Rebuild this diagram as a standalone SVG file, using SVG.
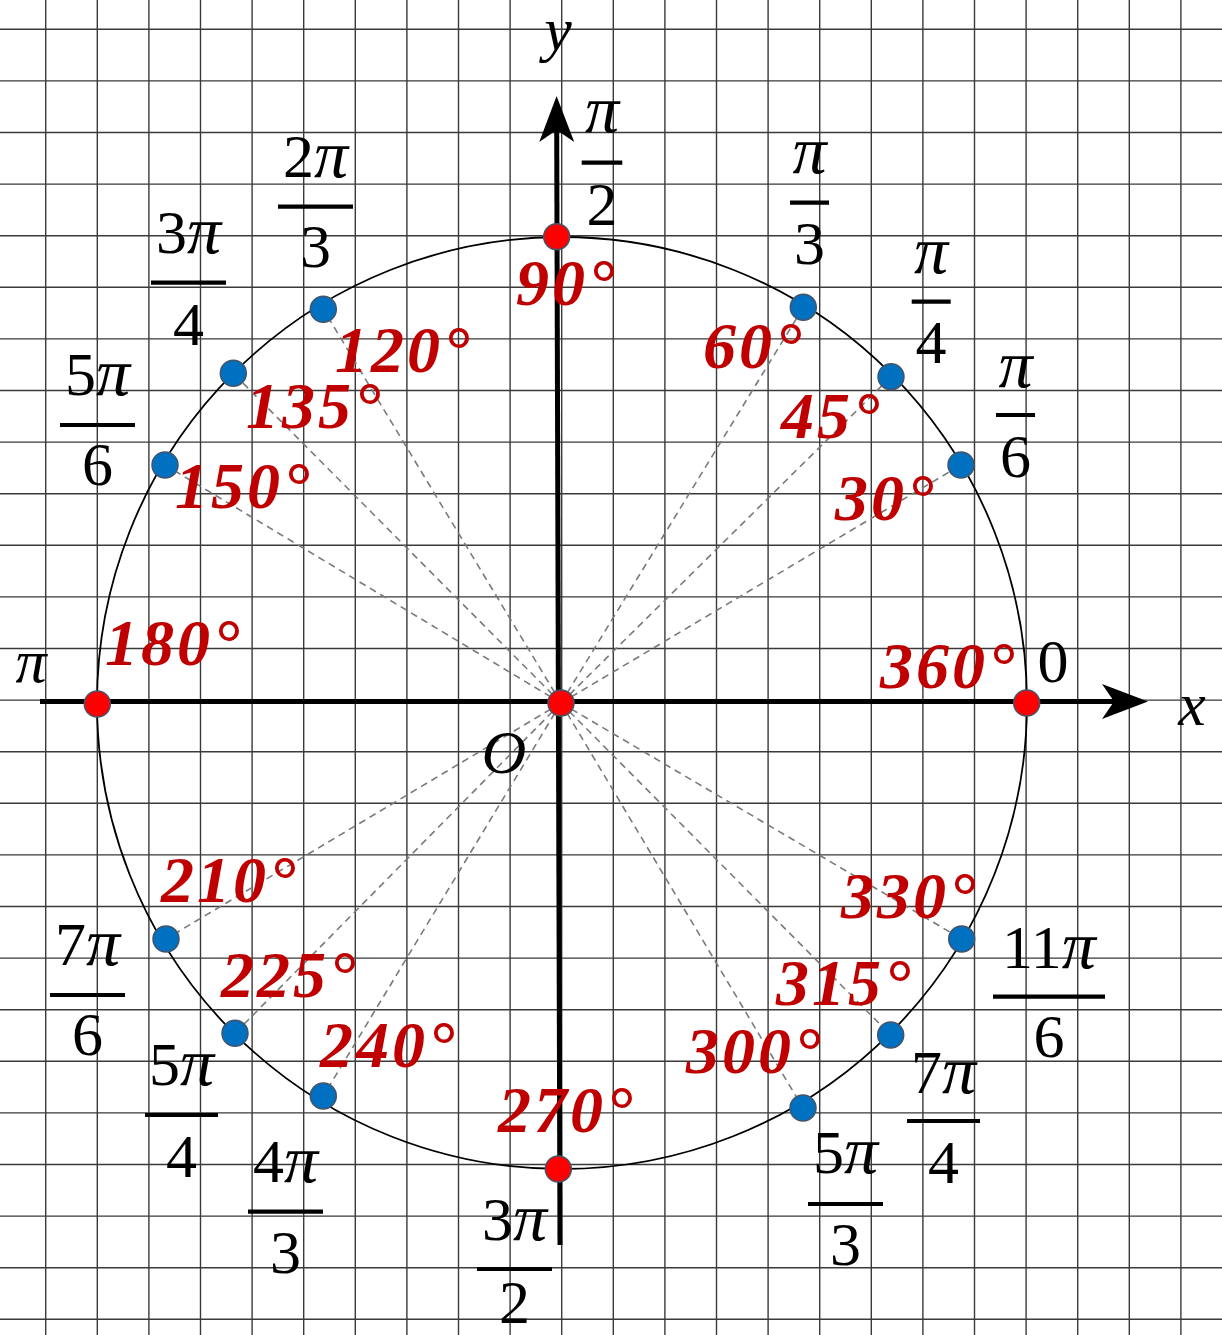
<svg xmlns="http://www.w3.org/2000/svg" width="1222" height="1335" viewBox="0 0 1222 1335">
<style>
.grid{stroke:#3a3a3a;stroke-width:1.4;fill:none}
.circ{stroke:#000;stroke-width:1.8;fill:none}
.axis{stroke:#000;stroke-width:5;fill:none}
.dash{stroke:#7a7a7a;stroke-width:1.6;stroke-dasharray:7 5;fill:none}
.bdot{fill:#0070c0;stroke:#44546a;stroke-width:1.5}
.rdot{fill:#ff0000;stroke:#44546a;stroke-width:1.5}
.lab{font-family:"Liberation Serif",serif;font-size:62px;fill:#000;text-anchor:middle}
.it{font-style:italic}
.pi{font-style:italic;font-size:68px}
.bar{stroke:#000;stroke-width:4.2}
.deg{font-family:"Liberation Serif",serif;font-size:66px;font-weight:bold;font-style:italic;fill:#c00000;letter-spacing:3px}
</style>
<defs>
<marker id="arr" markerUnits="userSpaceOnUse" markerWidth="50" markerHeight="40" refX="12" refY="17.5" orient="auto" overflow="visible">
<path d="M0,0 L46,17.5 L0,35 L12,17.5 Z" fill="#000"/>
</marker>
</defs>
<rect width="1222" height="1335" fill="#fff"/>
<g id="grid">
<path class="grid" d="M45.7,0V1335M97.3,0V1335M148.9,0V1335M200.5,0V1335M252.1,0V1335M303.7,0V1335M355.3,0V1335M406.9,0V1335M458.5,0V1335M510.1,0V1335M561.7,0V1335M613.3,0V1335M664.9,0V1335M716.5,0V1335M768.1,0V1335M819.7,0V1335M871.3,0V1335M922.9,0V1335M974.5,0V1335M1026.1,0V1335M1077.7,0V1335M1129.3,0V1335M1180.9,0V1335M0,29.3H1222M0,80.9H1222M0,132.5H1222M0,184.1H1222M0,235.7H1222M0,287.3H1222M0,338.9H1222M0,390.5H1222M0,442.1H1222M0,493.7H1222M0,545.3H1222M0,596.9H1222M0,648.5H1222M0,700.1H1222M0,751.7H1222M0,803.3H1222M0,854.9H1222M0,906.5H1222M0,958.1H1222M0,1009.7H1222M0,1061.3H1222M0,1112.9H1222M0,1164.5H1222M0,1216.1H1222M0,1267.7H1222M0,1319.3H1222"/>
</g>
<g id="unit-circle">
<ellipse class="circ" cx="562" cy="703" rx="465" ry="466"/>
</g>
<g id="connectors">
<line class="dash" x1="561" y1="703" x2="961" y2="465"/>
<line class="dash" x1="561" y1="703" x2="891" y2="376.7"/>
<line class="dash" x1="561" y1="703" x2="803.3" y2="307.3"/>
<line class="dash" x1="561" y1="703" x2="323.3" y2="309.3"/>
<line class="dash" x1="561" y1="703" x2="233.3" y2="373.3"/>
<line class="dash" x1="561" y1="703" x2="165" y2="465"/>
<line class="dash" x1="561" y1="703" x2="166" y2="939"/>
<line class="dash" x1="561" y1="703" x2="235" y2="1033.3"/>
<line class="dash" x1="561" y1="703" x2="323.3" y2="1096"/>
<line class="dash" x1="561" y1="703" x2="803" y2="1108"/>
<line class="dash" x1="561" y1="703" x2="890.7" y2="1035"/>
<line class="dash" x1="561" y1="703" x2="961.7" y2="939"/>
<line id="x-axis" class="axis" x1="40" y1="701.5" x2="1114" y2="701.5" marker-end="url(#arr)"/>
<line id="y-axis" class="axis" x1="560" y1="1245" x2="556.7" y2="130" marker-end="url(#arr)"/>
</g>
<g id="points">
<circle class="bdot" cx="961" cy="465" r="13"/>
<circle class="bdot" cx="891" cy="376.7" r="13"/>
<circle class="bdot" cx="803.3" cy="307.3" r="13"/>
<circle class="bdot" cx="323.3" cy="309.3" r="13"/>
<circle class="bdot" cx="233.3" cy="373.3" r="13"/>
<circle class="bdot" cx="165" cy="465" r="13"/>
<circle class="bdot" cx="166" cy="939" r="13"/>
<circle class="bdot" cx="235" cy="1033.3" r="13"/>
<circle class="bdot" cx="323.3" cy="1096" r="13"/>
<circle class="bdot" cx="803" cy="1108" r="13"/>
<circle class="bdot" cx="890.7" cy="1035" r="13"/>
<circle class="bdot" cx="961.7" cy="939" r="13"/>
<circle class="rdot" cx="556.7" cy="236.7" r="13"/>
<circle class="rdot" cx="97.3" cy="704" r="13"/>
<circle class="rdot" cx="1026.7" cy="703" r="13"/>
<circle class="rdot" cx="558.3" cy="1169" r="13"/>
<circle class="rdot" cx="561" cy="703" r="13"/>
</g>
<g id="axis-labels">
<text class="lab it" x="1192" y="725" font-size="104">x</text>
<text class="lab it" x="558" y="50" font-size="78">y</text>
<text class="lab it" x="504" y="773" font-size="92">O</text>
<text class="lab" x="1053" y="682">0</text>
<text class="lab it" x="31" y="682" font-size="68">π</text>
</g>
<g id="rad-labels">
<g id="f-pi2"><text class="lab pi" x="602" y="132">π</text><line class="bar" x1="581.7" y1="162.7" x2="622.3" y2="162.7"/><text class="lab" x="602" y="225">2</text></g>
<g id="f-pi3"><text class="lab pi" x="809.5" y="173">π</text><line class="bar" x1="790" y1="202.7" x2="829" y2="202.7"/><text class="lab" x="809.5" y="264">3</text></g>
<g id="f-pi4"><text class="lab pi" x="931" y="273">π</text><line class="bar" x1="911.7" y1="301.7" x2="950.7" y2="301.7"/><text class="lab" x="931" y="363">4</text></g>
<g id="f-pi6"><text class="lab pi" x="1015.5" y="387">π</text><line class="bar" x1="996" y1="415" x2="1035" y2="415"/><text class="lab" x="1015.5" y="477">6</text></g>
<g id="f-2pi3"><text class="lab" x="315.5" y="177">2<tspan class="pi">π</tspan></text><line class="bar" x1="278" y1="206.7" x2="353" y2="206.7"/><text class="lab" x="315.5" y="267">3</text></g>
<g id="f-3pi4"><text class="lab" x="188.5" y="253">3<tspan class="pi">π</tspan></text><line class="bar" x1="151" y1="282.7" x2="226" y2="282.7"/><text class="lab" x="188.5" y="345">4</text></g>
<g id="f-5pi6"><text class="lab" x="97.5" y="395">5<tspan class="pi">π</tspan></text><line class="bar" x1="60" y1="425" x2="135" y2="425"/><text class="lab" x="97.5" y="485">6</text></g>
<g id="f-7pi6"><text class="lab" x="87.5" y="965">7<tspan class="pi">π</tspan></text><line class="bar" x1="50" y1="995" x2="125" y2="995"/><text class="lab" x="87.5" y="1055">6</text></g>
<g id="f-5pi4"><text class="lab" x="181.5" y="1085">5<tspan class="pi">π</tspan></text><line class="bar" x1="145" y1="1115" x2="218" y2="1115"/><text class="lab" x="181.5" y="1177">4</text></g>
<g id="f-4pi3"><text class="lab" x="285.5" y="1182">4<tspan class="pi">π</tspan></text><line class="bar" x1="248" y1="1211.7" x2="323" y2="1211.7"/><text class="lab" x="285.5" y="1273">3</text></g>
<g id="f-3pi2"><text class="lab" x="514.5" y="1240">3<tspan class="pi">π</tspan></text><line class="bar" x1="477" y1="1269" x2="552" y2="1269"/><text class="lab" x="514.5" y="1323">2</text></g>
<g id="f-5pi3"><text class="lab" x="845.5" y="1173">5<tspan class="pi">π</tspan></text><line class="bar" x1="808" y1="1204" x2="883" y2="1204"/><text class="lab" x="845.5" y="1265">3</text></g>
<g id="f-7pi4"><text class="lab" x="943.5" y="1093">7<tspan class="pi">π</tspan></text><line class="bar" x1="907" y1="1121" x2="980" y2="1121"/><text class="lab" x="943.5" y="1183">4</text></g>
<g id="f-11pi6"><text class="lab" x="1049" y="968">11<tspan class="pi">π</tspan></text><line class="bar" x1="993" y1="996.7" x2="1105" y2="996.7"/><text class="lab" x="1049" y="1057">6</text></g>
</g>
<g id="deg-labels">
<text class="deg" x="516" y="305">90°</text>
<text class="deg" x="703" y="368">60°</text>
<text class="deg" x="781" y="438">45°</text>
<text class="deg" x="835" y="520">30°</text>
<text class="deg" x="335" y="372">120°</text>
<text class="deg" x="246" y="428">135°</text>
<text class="deg" x="175" y="508">150°</text>
<text class="deg" x="105" y="665">180°</text>
<text class="deg" x="880" y="688">360°</text>
<text class="deg" x="161" y="902">210°</text>
<text class="deg" x="221" y="997">225°</text>
<text class="deg" x="320" y="1067">240°</text>
<text class="deg" x="498" y="1132">270°</text>
<text class="deg" x="686" y="1073">300°</text>
<text class="deg" x="776" y="1005">315°</text>
<text class="deg" x="841" y="918">330°</text>
</g>
</svg>
